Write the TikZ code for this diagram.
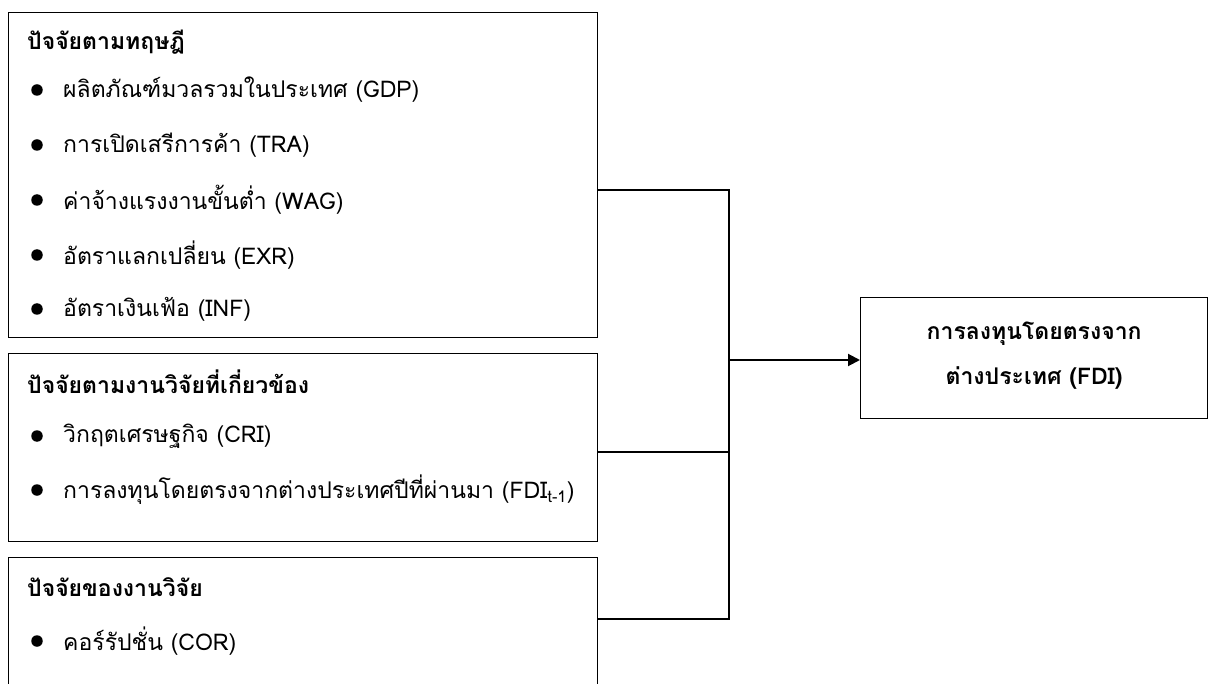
\documentclass[tikz,border=0pt]{standalone}
\usepackage{fontspec}
\newfontfamily\thai[Script=Thai]{Loma}
\usetikzlibrary{calc,arrows.meta}
\begin{document}
\begin{tikzpicture}[x=1pt,y=-1pt,
  box/.style={draw,line width=1.3pt,inner sep=0pt,anchor=north west},
  head/.style={anchor=west,inner sep=0pt,font=\thai\fontsize{23}{26}\selectfont\bfseries},
  item/.style={anchor=west,inner sep=0pt,font=\thai\fontsize{23}{26}\selectfont},
  dot/.style={circle,fill,inner sep=0pt,minimum size=11.5pt},
  conn/.style={line width=1.3pt},
  arr/.style={line width=2pt,-{Triangle[length=12pt,width=12pt]}}]
\useasboundingbox (0,0) rectangle (1209,684);
\clip (0,0) rectangle (1209,684);
% boxes
\node[box,minimum width=589pt,minimum height=325pt] (b1) at (8,12) {};
\node[box,minimum width=589pt,minimum height=188pt] (b2) at (8,353) {};
\node[box,minimum width=589pt,minimum height=160pt] (b3) at (8,557) {};
\node[box,minimum width=347pt,minimum height=121pt] (fdi) at (860,297) {};
\node[head,anchor=center] (f1) at ($(fdi.center)+(0,-24)$) {การลงทุนโดยตรงจาก};
\node[head,anchor=center] (f2) at ($(fdi.center)+(0,20)$) {ต่างประเทศ (FDI)};
% box 1
\node[head] (h1) at (27,42) {ปัจจัยตามทฤษฎี};
\node[dot] (d11) at (37,90) {};
\node[item] (t11) at (63,90) {ผลิตภัณฑ์มวลรวมในประเทศ (GDP)};
\node[dot] (d12) at (37,145) {};
\node[item] (t12) at (63,145) {การเปิดเสรีการค้า (TRA)};
\node[dot] (d13) at (37,200) {};
\node[item] (t13) at (63,200) {ค่าจ้างแรงงานขั้นต่ำ (WAG)};
\node[dot] (d14) at (37,255) {};
\node[item] (t14) at (63,255) {อัตราแลกเปลี่ยน (EXR)};
\node[dot] (d15) at (37,309) {};
\node[item] (t15) at (63,309) {อัตราเงินเฟ้อ (INF)};
% box 2
\node[head] (h2) at (27,382) {ปัจจัยตามงานวิจัยที่เกี่ยวข้อง};
\node[dot] (d21) at (37,436) {};
\node[item] (t21) at (63,436) {วิกฤตเศรษฐกิจ (CRI)};
\node[dot] (d22) at (37,490) {};
\node[item] (t22) at (63,490) {การลงทุนโดยตรงจากต่างประเทศปีที่ผ่านมา (FDI\textsubscript{t-1})};
% box 3
\node[head] (h3) at (27,587) {ปัจจัยของงานวิจัย};
\node[dot] (d31) at (37,641) {};
\node[item] (t31) at (63,641) {คอร์รัปชั่น (COR)};
% connectors
\coordinate (j) at (729,360);
\draw[conn] ($(b1.north east)+(0,178)$) -| (729,619) -- ($(b3.north east)+(0,62)$);
\draw[conn] ($(b2.north east)+(0,99)$) -- (729,452);
\draw[arr] (j) -- (fdi.west |- j);
\end{tikzpicture}
\end{document}
